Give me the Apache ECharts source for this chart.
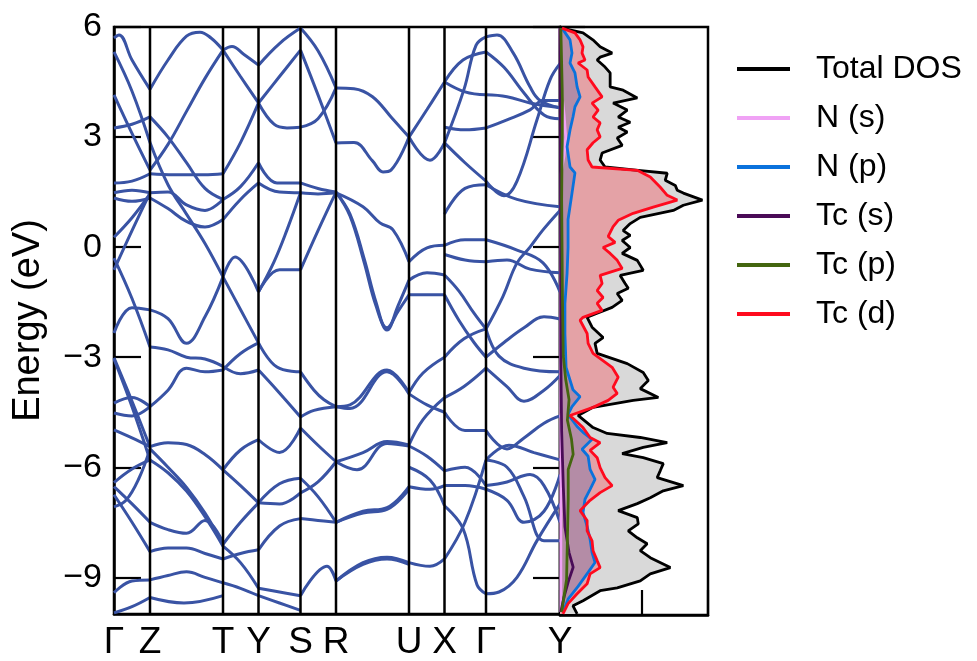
<!DOCTYPE html>
<html><head><meta charset="utf-8">
<script src="https://cdn.jsdelivr.net/npm/echarts@6/dist/echarts.min.js"></script>
<style>html,body{margin:0;padding:0;background:#fff}#c{width:977px;height:661px}</style>
</head><body><div id="c"></div>
<script>
const kTicks = [0, 0.36, 1.09, 1.445, 1.865, 2.22, 2.95, 3.305, 3.72, 4.46];
const kLabels = ['Γ','Z','T','Y','S','R','U','X','Γ','Y'];
const energyTicks = [-9, -6, -3, 0, 3, 6];

// band pieces per path segment: [k, E(eV)]
const bandsGZ = [
 [[0,5.70],[0.05,5.78],[0.18,5.1],[0.36,4.3]],
 [[0,5.32],[0.18,4.25],[0.36,2.85]],
 [[0,4.15],[0.18,3.1],[0.36,2.1]],
 [[0,3.25],[0.18,3.35],[0.36,3.55]],
 [[0,1.75],[0.18,1.8],[0.36,2.0]],
 [[0,1.48],[0.18,1.55],[0.36,1.48]],
 [[0,1.34],[0.18,1.25],[0.36,1.34]],
 [[0,0.27],[0.18,0.8],[0.36,1.45]],
 [[0,-0.3],[0.18,-1.4],[0.36,-2.72]],
 [[0,-0.62],[0.18,0.45],[0.36,1.48]],
 [[0,-2.34],[0.18,-1.65],[0.36,-1.71]],
 [[0,-3.02],[0.18,-4.2],[0.36,-5.45]],
 [[0,-3.05],[0.18,-4.35],[0.36,-5.8]],
 [[0,-4.25],[0.18,-4.1],[0.36,-4.35]],
 [[0,-4.52],[0.18,-4.6],[0.36,-4.35]],
 [[0,-4.98],[0.18,-5.2],[0.36,-5.44]],
 [[0,-6.42],[0.18,-6.05],[0.36,-5.8]],
 [[0,-6.53],[0.18,-7.0],[0.36,-7.5]],
 [[0,-6.75],[0.18,-7.5],[0.36,-8.3]],
 [[0,-7.08],[0.12,-6.9],[0.25,-6.3],[0.36,-5.5]],
 [[0,-9.42],[0.18,-9.1],[0.36,-9.07]],
 [[0,-9.97],[0.18,-9.8],[0.36,-9.55]]
];
const bandsZT = [
 [[0.36,4.3],[0.54,5.1],[0.725,5.75],[0.86,5.86],[0.97,5.7],[1.09,5.37]],
 [[0.36,2.1],[0.54,2.8],[0.725,3.7],[0.91,4.6],[1.09,5.37]],
 [[0.36,2.0],[0.6,1.97],[0.9,1.97],[1.09,2.0]],
 [[0.36,1.48],[0.54,1.5],[0.725,1.15],[0.91,1.0],[1.09,1.3]],
 [[0.36,1.34],[0.54,1.05],[0.725,0.7],[0.91,0.55],[1.09,0.75]],
 [[0.36,2.85],[0.54,1.7],[0.725,0.9],[0.91,0.1],[1.09,-0.81]],
 [[0.36,3.55],[0.54,3.0],[0.725,2.3],[0.91,1.6],[1.09,1.3]],
 [[0.36,-1.71],[0.54,-1.95],[0.725,-2.62],[0.91,-1.9],[1.09,-0.81]],
 [[0.36,-2.72],[0.54,-2.8],[0.725,-3.0],[0.91,-3.05],[1.09,-3.25]],
 [[0.36,-4.35],[0.54,-3.9],[0.725,-3.3],[0.91,-3.4],[1.09,-3.35]],
 [[0.36,-5.44],[0.54,-5.33],[0.725,-5.38],[0.91,-5.65],[1.09,-6.07]],
 [[0.36,-5.5],[0.54,-6.0],[0.725,-6.55],[0.91,-7.25],[1.09,-8.1]],
 [[0.36,-5.8],[0.54,-6.15],[0.725,-6.65],[0.91,-7.35],[1.09,-8.15]],
 [[0.36,-7.5],[0.54,-7.7],[0.725,-7.8],[0.91,-7.45],[1.09,-8.05]],
 [[0.36,-8.3],[0.54,-8.2],[0.725,-8.2],[0.91,-8.35],[1.09,-8.5]],
 [[0.36,-9.07],[0.54,-8.95],[0.725,-8.85],[0.91,-9.0],[1.09,-9.15]],
 [[0.36,-9.55],[0.7,-9.7],[1.09,-9.5]]
];
const bandsTY = [
 [[1.09,5.37],[1.18,5.47],[1.30,5.25],[1.445,4.96]],
 [[1.09,5.37],[1.265,4.65],[1.445,3.93]],
 [[1.09,2.0],[1.265,2.85],[1.445,3.93]],
 [[1.09,1.3],[1.265,1.65],[1.445,2.3]],
 [[1.09,0.75],[1.265,1.3],[1.445,1.75]],
 [[1.09,-0.81],[1.21,-0.27],[1.445,-1.22]],
 [[1.09,-0.81],[1.265,-1.7],[1.445,-2.61]],
 [[1.09,-3.25],[1.265,-3.45],[1.445,-3.35]],
 [[1.09,-3.35],[1.265,-2.9],[1.445,-2.61]],
 [[1.09,-6.07],[1.265,-5.53],[1.445,-5.25]],
 [[1.09,-6.07],[1.265,-6.5],[1.445,-6.97]],
 [[1.09,-8.1],[1.265,-7.5],[1.445,-6.97]],
 [[1.09,-8.15],[1.265,-8.6],[1.445,-9.3]],
 [[1.09,-8.5],[1.265,-8.35],[1.445,-8.25]],
 [[1.09,-9.15],[1.265,-9.3],[1.445,-9.5]]
];
const bandsYS = [
 [[1.445,4.96],[1.655,5.55],[1.865,5.97]],
 [[1.445,3.93],[1.655,4.65],[1.865,5.37]],
 [[1.445,3.93],[1.6,3.35],[1.73,3.25],[1.865,3.27]],
 [[1.445,2.3],[1.63,1.75],[1.865,1.75]],
 [[1.445,1.75],[1.655,1.5],[1.865,1.48]],
 [[1.445,-1.22],[1.655,-0.62],[1.865,-0.62]],
 [[1.445,-1.22],[1.6,-0.4],[1.73,0.47],[1.865,1.48]],
 [[1.445,-2.61],[1.63,-3.27],[1.865,-3.4]],
 [[1.445,-3.35],[1.63,-3.9],[1.865,-4.63]],
 [[1.445,-5.25],[1.655,-5.6],[1.865,-4.93]],
 [[1.445,-6.97],[1.655,-6.45],[1.865,-6.3]],
 [[1.445,-6.97],[1.655,-7.0],[1.865,-6.7]],
 [[1.445,-8.25],[1.655,-7.6],[1.865,-7.4]],
 [[1.445,-9.3],[1.655,-9.4],[1.865,-9.5]],
 [[1.445,-9.5],[1.655,-9.7],[1.865,-9.9]]
];
const bandsSR = [
 [[1.865,5.97],[2.04,5.35],[2.22,4.34]],
 [[1.865,5.37],[2.04,4.15],[2.22,2.84]],
 [[1.865,3.27],[2.04,3.5],[2.22,4.34]],
 [[1.865,1.75],[2.04,1.6],[2.22,1.5]],
 [[1.865,1.48],[2.04,1.45],[2.22,1.48]],
 [[1.865,-0.62],[2.04,0.45],[2.22,1.5]],
 [[1.865,-3.4],[2.0,-3.9],[2.1,-4.16],[2.22,-4.35]],
 [[1.865,-4.63],[2.0,-4.45],[2.22,-4.35]],
 [[1.865,-4.93],[2.04,-5.4],[2.22,-5.85]],
 [[1.865,-6.3],[2.04,-6.8],[2.22,-7.5]],
 [[1.865,-6.7],[2.04,-6.4],[2.22,-5.85]],
 [[1.865,-7.4],[2.04,-7.45],[2.22,-7.5]],
 [[1.865,-9.5],[2.13,-8.7],[2.22,-9.1]]
];
const bandsRU = [
 [[2.22,4.34],[2.40,4.32],[2.585,4.1],[2.77,3.55],[2.95,3.0]],
 [[2.22,2.84],[2.40,2.85],[2.585,2.35],[2.69,2.05],[2.77,2.1],[2.95,3.0]],
 [[2.22,1.5],[2.36,0.9],[2.5,-0.3],[2.62,-1.5],[2.73,-2.26],[2.84,-1.6],[2.95,-0.9]],
 [[2.22,1.5],[2.36,0.85],[2.5,-0.4],[2.62,-1.6],[2.73,-2.2],[2.84,-1.75],[2.95,-1.3]],
 [[2.22,1.48],[2.49,1.1],[2.66,0.66],[2.79,0.47],[2.95,-0.4]],
 [[2.22,-4.35],[2.36,-4.3],[2.73,-3.35],[2.95,-3.97]],
 [[2.22,-4.35],[2.36,-4.4],[2.73,-3.4],[2.95,-4.0]],
 [[2.22,-5.85],[2.49,-5.6],[2.73,-5.3],[2.95,-5.39]],
 [[2.22,-5.85],[2.43,-6.07],[2.73,-5.35],[2.95,-5.42]],
 [[2.22,-7.5],[2.49,-7.2],[2.73,-7.1],[2.95,-6.53]],
 [[2.22,-7.5],[2.49,-7.25],[2.73,-7.15],[2.95,-6.6]],
 [[2.22,-9.1],[2.49,-8.6],[2.73,-8.45],[2.95,-8.6]],
 [[2.22,-9.1],[2.49,-8.65],[2.73,-8.5],[2.95,-8.65]]
];
const bandsUX = [
 [[2.95,3.0],[3.13,3.75],[3.305,4.5]],
 [[2.95,3.0],[3.16,2.37],[3.305,2.84]],
 [[2.95,-0.4],[3.13,-0.02],[3.305,0.05]],
 [[2.95,-0.9],[3.13,-0.7],[3.305,-0.76]],
 [[2.95,-1.3],[3.13,-1.3],[3.305,-1.3]],
 [[2.95,-3.97],[3.09,-3.43],[3.305,-3.0]],
 [[2.95,-4.0],[3.13,-4.3],[3.305,-4.5]],
 [[2.95,-5.39],[3.09,-4.7],[3.305,-4.1]],
 [[2.95,-6.0],[3.16,-6.35],[3.305,-7.05]],
 [[2.95,-6.53],[3.16,-6.6],[3.305,-6.5]],
 [[2.95,-8.6],[3.16,-8.7],[3.305,-8.5]],
 [[2.95,-5.42],[3.13,-5.7],[3.305,-6.1]]
];
const bandsXG = [
 [[3.305,4.5],[3.49,5.1],[3.72,5.32]],
 [[3.305,2.84],[3.5,4.3],[3.62,5.5],[3.72,5.73]],
 [[3.305,4.5],[3.51,4.23],[3.72,4.15]],
 [[3.305,3.27],[3.51,3.2],[3.72,3.25]],
 [[3.305,2.84],[3.51,2.3],[3.72,1.8]],
 [[3.305,0.9],[3.51,1.6],[3.72,1.7]],
 [[3.305,0.05],[3.51,0.2],[3.72,0.2]],
 [[3.305,-0.2],[3.51,-0.35],[3.72,-0.4]],
 [[3.305,-0.76],[3.45,-1.2],[3.6,-1.8],[3.72,-2.23]],
 [[3.305,-1.3],[3.45,-2.0],[3.6,-2.6],[3.72,-3.0]],
 [[3.305,-3.0],[3.5,-2.5],[3.72,-2.23]],
 [[3.305,-4.1],[3.5,-3.8],[3.72,-3.3]],
 [[3.305,-4.5],[3.51,-5.0],[3.72,-5.0]],
 [[3.305,-6.1],[3.51,-6.0],[3.72,-6.5]],
 [[3.305,-6.5],[3.51,-6.5],[3.72,-6.6]],
 [[3.305,-7.05],[3.49,-7.67],[3.63,-9.2],[3.72,-9.45]],
 [[3.305,-8.5],[3.51,-7.5],[3.72,-5.8]]
];
const bandsGY = [
 [[3.72,5.73],[3.83,5.78],[3.99,5.3],[4.16,4.37],[4.26,4.0],[4.46,3.8]],
 [[3.72,5.32],[3.9,4.9],[4.1,4.2],[4.3,3.6],[4.46,3.5]],
 [[3.72,4.15],[3.93,4.1],[4.16,3.93],[4.46,3.8]],
 [[3.72,3.25],[3.93,3.47],[4.16,3.74],[4.29,4.0],[4.46,4.0]],
 [[3.72,1.8],[3.9,1.4],[4.03,1.8],[4.23,3.47],[4.36,4.56],[4.46,5.0]],
 [[3.72,1.7],[4.03,1.3],[4.46,1.1]],
 [[3.72,0.2],[4.03,-0.08],[4.29,-0.43],[4.46,-1.22]],
 [[3.72,-0.4],[3.93,-0.35],[4.16,-0.6],[4.46,-0.7]],
 [[3.72,-2.23],[3.89,-1.34],[4.03,-0.43],[4.16,0.0],[4.29,0.47],[4.46,1.0]],
 [[3.72,-3.0],[3.9,-2.6],[4.1,-2.2],[4.3,-1.9],[4.46,-1.96]],
 [[3.72,-2.23],[3.85,-2.97],[4.1,-3.3],[4.46,-3.4]],
 [[3.72,-3.3],[3.93,-3.8],[4.1,-4.2],[4.3,-3.9],[4.46,-3.5]],
 [[3.72,-5.0],[3.93,-5.5],[4.1,-5.2],[4.3,-4.8],[4.46,-4.6]],
 [[3.72,-5.8],[3.93,-6.0],[4.1,-6.8],[4.3,-8.0],[4.46,-8.0]],
 [[3.72,-6.5],[3.93,-6.4],[4.16,-6.2],[4.3,-6.5],[4.46,-7.5]],
 [[3.72,-6.6],[3.93,-6.9],[4.1,-7.5],[4.3,-7.2],[4.46,-6.2]],
 [[3.72,-9.45],[3.85,-9.4],[4.03,-9.0],[4.23,-8.0],[4.46,-7.0]],
 [[3.72,-5.8],[3.95,-5.4],[4.2,-5.6],[4.46,-5.8]]
];

// DOS curves: [DOS value, E(eV)]
const totalDos = [[0.12,5.97],[1.4,5.84],[2.0,5.65],[2.44,5.46],[3.17,5.29],[2.44,5.18],[2.26,5.1],[2.74,4.91],[3.05,4.75],[3.05,4.37],[3.84,4.28],[4.7,4.07],[3.23,3.93],[4.09,3.74],[3.54,3.55],[4.27,3.41],[3.54,3.27],[4.09,3.14],[3.48,2.98],[3.78,2.78],[2.56,2.57],[2.44,2.38],[2.74,2.19],[4.76,2.1],[6.52,2.02],[6.4,1.83],[7.01,1.69],[7.13,1.56],[7.5,1.48],[8.66,1.29],[7.5,1.15],[6.89,1.01],[4.88,0.82],[4.27,0.65],[3.84,0.46],[4.27,0.33],[3.78,0.19],[4.27,0.0],[3.78,-0.16],[4.7,-0.35],[5.06,-0.62],[3.66,-0.76],[3.96,-0.98],[4.15,-1.11],[3.48,-1.25],[3.78,-1.44],[3.17,-1.63],[2.26,-1.79],[1.65,-1.9],[1.95,-2.17],[2.62,-2.45],[2.13,-2.61],[2.26,-2.88],[4.09,-3.16],[5.06,-3.4],[5.37,-3.62],[4.88,-3.84],[5.98,-4.08],[4.45,-4.16],[2.01,-4.35],[1.1,-4.57],[2.01,-4.9],[2.87,-5.06],[4.88,-5.17],[6.52,-5.31],[5.06,-5.44],[3.78,-5.61],[5.06,-5.72],[6.28,-5.88],[6.1,-6.07],[5.91,-6.26],[7.5,-6.48],[6.28,-6.62],[5.49,-6.81],[4.7,-6.97],[3.54,-7.16],[4.7,-7.35],[4.76,-7.52],[4.15,-7.71],[4.7,-7.9],[5.3,-8.06],[4.88,-8.25],[5.49,-8.44],[6.71,-8.71],[5.49,-8.88],[4.88,-9.07],[3.48,-9.26],[2.44,-9.34],[1.4,-9.61],[0.79,-9.75],[1.04,-9.97]];
const tcD = [[0.12,5.97],[0.91,5.84],[1.22,5.65],[1.4,5.46],[1.34,5.29],[1.52,5.1],[1.1,5.02],[1.65,4.83],[1.71,4.64],[2.13,4.37],[2.56,4.1],[1.95,3.93],[2.32,3.74],[2.01,3.55],[2.44,3.39],[2.26,3.2],[2.44,3.01],[2.01,2.85],[1.65,2.66],[1.71,2.38],[1.95,2.19],[4.7,2.1],[5.49,1.92],[6.1,1.64],[6.52,1.42],[7.13,1.29],[5.67,1.1],[4.45,0.93],[3.54,0.74],[3.23,0.57],[2.93,0.3],[3.35,0.14],[2.62,0.0],[3.05,-0.16],[3.48,-0.35],[3.78,-0.57],[2.44,-0.76],[2.56,-0.98],[2.26,-1.17],[2.62,-1.36],[2.26,-1.52],[2.56,-1.71],[1.4,-1.9],[1.22,-1.98],[1.65,-2.34],[1.71,-2.61],[2.01,-2.88],[3.17,-3.26],[3.54,-3.53],[3.23,-3.8],[3.48,-3.97],[2.93,-4.16],[2.01,-4.35],[0.61,-4.57],[1.4,-4.9],[1.83,-5.17],[2.44,-5.31],[1.83,-5.52],[2.26,-5.72],[2.44,-5.99],[2.74,-6.26],[3.17,-6.48],[2.44,-6.67],[1.83,-6.88],[1.22,-7.16],[1.65,-7.43],[1.65,-7.71],[1.95,-7.98],[2.01,-8.25],[2.26,-8.52],[2.44,-8.71],[1.83,-8.88],[1.65,-9.15],[1.04,-9.42],[0.49,-9.69],[0.18,-9.97]];
const nP = [[0.12,5.97],[0.61,5.65],[0.73,5.29],[0.61,5.02],[0.91,4.75],[1.04,4.37],[1.22,4.1],[0.91,3.83],[0.79,3.55],[0.61,3.2],[0.43,2.74],[0.61,2.19],[0.91,2.03],[0.73,1.48],[0.49,0.76],[0.49,0.0],[0.43,-0.71],[0.3,-1.52],[0.3,-2.34],[0.37,-3.26],[0.79,-3.87],[1.22,-4.06],[0.73,-4.33],[0.49,-4.54],[1.04,-4.87],[1.4,-5.03],[1.95,-5.22],[1.34,-5.49],[1.71,-5.68],[1.83,-6.04],[2.13,-6.31],[1.83,-6.58],[1.52,-6.85],[1.4,-7.21],[1.65,-7.59],[1.83,-7.94],[1.95,-8.3],[2.13,-8.57],[1.71,-8.84],[1.1,-9.22],[0.49,-9.57],[0.18,-9.92]];
const tcP = [[0.05,5.97],[0.15,4.0],[0.1,1.3],[0.15,-1.4],[0.2,-2.95],[0.35,-3.6],[0.55,-4.14],[0.45,-4.7],[0.7,-5.22],[0.8,-5.63],[0.5,-6.04],[0.5,-6.85],[0.45,-7.94],[0.4,-9.03],[0.1,-9.92]];
const tcS = [[0.0,5.97],[0.03,2.0],[0.05,-3.0],[0.1,-5.0],[0.2,-6.5],[0.3,-7.6],[0.55,-8.3],[0.8,-8.7],[0.5,-9.1],[0.25,-9.5],[0.05,-9.92]];
const nS = [[0.0,5.97],[0.05,4.5],[0.25,3.6],[0.35,3.0],[0.25,2.5],[0.05,2.0],[0.03,-2.0],[0.05,-6.0],[0.05,-9.92]];

const FONT = '"Liberation Sans", Arial, Helvetica, sans-serif';
const BAND_COLOR = '#3953a4';
const chart = echarts.init(document.getElementById('c'), null, {renderer: 'canvas'});

const allBands = [].concat(bandsGZ, bandsZT, bandsTY, bandsYS, bandsSR, bandsRU, bandsUX, bandsXG, bandsGY);
const series = [];
allBands.forEach(b => series.push({
  type: 'line', xAxisIndex: 0, yAxisIndex: 0, data: b, smooth: 0.4,
  symbol: 'none', silent: true, z: 2,
  lineStyle: {color: BAND_COLOR, width: 3}
}));
kTicks.slice(1, -1).forEach(k => series.push({
  type: 'line', xAxisIndex: 0, yAxisIndex: 0, data: [[k, -10], [k, 6]],
  symbol: 'none', silent: true, z: 3, lineStyle: {color: '#000', width: 2.5}
}));
function fill(pts, color, z) {
  return {
    type: 'custom', xAxisIndex: 1, yAxisIndex: 2, z: z, silent: true, clip: true,
    data: pts, encode: {x: 0, y: 1},
    renderItem: function (params, api) {
      if (params.dataIndex !== 0) return null;
      const poly = pts.map(p => api.coord(p));
      poly.push(api.coord([0, pts[pts.length - 1][1]]));
      poly.push(api.coord([0, pts[0][1]]));
      return {type: 'polygon', shape: {points: poly}, style: {fill: color}};
    }
  };
}
series.push(fill(totalDos, '#d9d9d9', 1));
series.push(fill(tcD, '#e4a2a6', 1.1));
series.push(fill(nP, '#b48ca6', 1.2));
function dosLine(name, pts, color, z) {
  return {name: name, type: 'line', xAxisIndex: 1, yAxisIndex: 2, data: pts, symbol: 'none',
    silent: true, z: z, color: color, lineStyle: {color: color, width: 2.8}};
}
series.push(dosLine('Total DOS', totalDos, '#000000', 4));
series.push(dosLine('N (s)', nS, '#f0a2f5', 4.1));
series.push(dosLine('N (p)', nP, '#0a72dc', 4.2));
series.push(dosLine('Tc (s)', tcS, '#4a0b57', 4.3));
series.push(dosLine('Tc (p)', tcP, '#44660f', 4.4));
series.push(dosLine('Tc (d)', tcD, '#ff0a1e', 4.5));

const option = {
  animation: false,
  backgroundColor: '#fff',
  textStyle: {fontFamily: FONT},
  grid: [
    {left: 114, top: 27, width: 446, height: 588, show: true, borderColor: '#000', borderWidth: 2.5, backgroundColor: 'transparent'},
    {left: 560, top: 27, width: 148, height: 588, show: true, borderColor: '#000', borderWidth: 2.5, backgroundColor: 'transparent'}
  ],
  legend: {
    orient: 'vertical', left: 737, top: 53, padding: 0, itemWidth: 53, itemHeight: 4, itemGap: 17,
    icon: 'rect', selectedMode: false,
    textStyle: {fontSize: 32, color: '#000', fontFamily: FONT, padding: [0, 0, 0, 21]},
    data: ['Total DOS', 'N (s)', 'N (p)', 'Tc (s)', 'Tc (p)', 'Tc (d)']
  },
  xAxis: [
    {gridIndex: 0, type: 'value', min: 0, max: kTicks[kTicks.length - 1],
      axisLine: {show: true, onZero: false, lineStyle: {color: '#000', width: 2.5}},
      axisTick: {show: false}, splitLine: {show: false},
      axisLabel: {customValues: kTicks, fontSize: 37, color: '#000', fontFamily: FONT, margin: 10,
        formatter: v => { const i = kTicks.findIndex(t => Math.abs(t - v) < 1e-6); return i >= 0 ? kLabels[i] : ''; }}},
    {gridIndex: 1, type: 'value', min: 0, max: 9, interval: 5,
      axisLine: {show: true, onZero: false, lineStyle: {color: '#000', width: 2.5}},
      axisTick: {show: true, inside: true, length: 25, lineStyle: {color: '#000', width: 2.2}},
      axisLabel: {show: false}, splitLine: {show: false}}
  ],
  yAxis: [
    {gridIndex: 0, type: 'value', min: -10, max: 6, position: 'left',
      name: 'Energy (eV)', nameLocation: 'middle', nameGap: 66, nameRotate: 90,
      nameTextStyle: {fontSize: 38, color: '#000', fontFamily: FONT},
      axisLine: {show: true, onZero: false, lineStyle: {color: '#000', width: 2.5}},
      axisTick: {show: true, inside: true, length: 27, customValues: energyTicks, lineStyle: {color: '#000', width: 2.2}},
      axisLabel: {customValues: energyTicks, fontSize: 34, color: '#000', fontFamily: FONT, margin: 12,
        formatter: v => v < 0 ? '\u2212' + Math.abs(v) : String(v)},
      splitLine: {show: false}},
    {gridIndex: 0, type: 'value', min: -10, max: 6, position: 'right',
      axisLine: {show: true, onZero: false, lineStyle: {color: '#000', width: 2.5}},
      axisTick: {show: true, inside: true, length: 27, customValues: energyTicks, lineStyle: {color: '#000', width: 2.2}},
      axisLabel: {show: false}, splitLine: {show: false}},
    {gridIndex: 1, type: 'value', min: -10, max: 6, position: 'left',
      axisLine: {show: true, onZero: false, lineStyle: {color: '#000', width: 2.5}},
      axisTick: {show: true, inside: true, length: 25, customValues: energyTicks, lineStyle: {color: '#000', width: 2.2}},
      axisLabel: {show: false}, splitLine: {show: false}}
  ],
  series: series
};
chart.setOption(option);
</script></body></html>
